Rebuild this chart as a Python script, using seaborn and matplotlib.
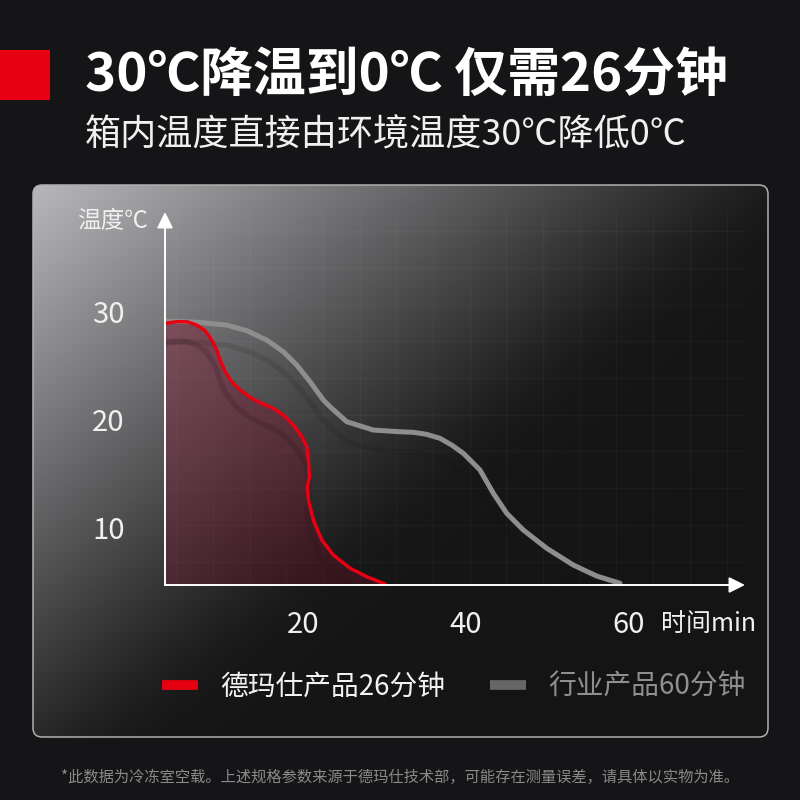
import numpy as np
import matplotlib
matplotlib.use("Agg")
import matplotlib.pyplot as plt
import matplotlib.transforms as mtransforms
from matplotlib.patches import FancyBboxPatch, Rectangle, Polygon
from matplotlib.ticker import MultipleLocator
import seaborn as sns

# ---------------- data ----------------
red_time = [3.10, 4.54, 5.77, 6.99, 8.01, 8.83, 9.45, 9.85, 10.47, 11.29, 12.31, 13.53,
            14.76, 16.20, 17.62, 18.85, 19.88, 20.49, 20.69, 20.81, 20.56, 20.69, 21.30,
            22.33, 23.75, 25.80, 27.85, 30.10]
red_temp = [28.86, 29.01, 29.01, 28.70, 28.18, 27.31, 26.39, 25.46, 24.38, 23.45, 22.69, 22.01,
            21.51, 21.05, 20.37, 19.44, 18.36, 17.44, 16.20, 14.66, 13.73, 12.50, 10.65,
            8.80, 7.41, 6.18, 5.40, 4.72]
grey_time = [3.10, 5.56, 7.77, 10.67, 13.13, 15.58, 17.62, 19.26, 20.90, 22.53, 23.35,
             25.40, 28.66, 31.94, 33.57, 35.21, 36.85, 38.28, 39.71, 40.74, 41.75, 43.39,
             45.03, 47.07, 49.94, 53.20, 56.07, 58.93]
grey_temp = [29.07, 29.03, 28.92, 28.70, 28.18, 27.31, 26.23, 25.00, 23.45, 21.76, 21.14,
             19.75, 18.98, 18.82, 18.77, 18.58, 18.21, 17.59, 16.82, 16.05, 15.28, 13.12,
             11.27, 9.72, 8.03, 6.48, 5.46, 4.79]
x_ticks = [20, 40, 60]
y_ticks = [10, 20, 30]
series_labels = ["德玛仕产品26分钟", "行业产品60分钟"]
title = "30℃降温到0℃ 仅需26分钟"
subtitle = "箱内温度直接由环境温度30℃降低0℃"
footnote = "*此数据为冷冻室空载。上述规格参数来源于德玛仕技术部，可能存在测量误差，请具体以实物为准。"
y_label = "温度℃"
x_label = "时间min"

# ---------------- style ----------------
sns.set_style("dark")
plt.rcParams['font.family'] = ['Noto Sans CJK SC', 'DejaVu Sans']
plt.rcParams['axes.unicode_minus'] = False

RED = "#e60012"
GREY = "#8e8e8e"
BG = "#151518"

fig = plt.figure(figsize=(8, 8), dpi=100, facecolor=BG)

# background layer in pixel coordinates
bg = fig.add_axes([0, 0, 1, 1], zorder=0)
bg.set_xlim(0, 800)
bg.set_ylim(800, 0)
bg.axis("off")
bg.set_facecolor(BG)

# panel with diagonal gradient from top-left
px0, py0, px1, py1 = 33, 185, 768, 737
W, H = px1 - px0, py1 - py0
xx, yy = np.meshgrid(np.linspace(0, W, 400), np.linspace(0, H, 300))
v = 0.72 - 0.00084 * xx - 0.00102 * yy - 0.08
b = 0.08 + 0.5 * (v + np.sqrt(v ** 2 + 0.002))
img = np.dstack([b, b, b * 1.02, np.ones_like(b)])
img = np.clip(img, 0, 1)
panel = FancyBboxPatch((px0, py0), W, H, boxstyle="round,pad=0,rounding_size=9",
                       facecolor="none", edgecolor="#b0b0b0", lw=1.1,
                       transform=bg.transData, zorder=3)
bg.add_patch(panel)
im = bg.imshow(img, extent=[px0, px1, py1, py0], aspect="auto", zorder=1,
               interpolation="bilinear")
im.set_clip_path(panel)

# red square marker
bg.add_patch(Rectangle((0, 50), 50, 50, facecolor=RED, edgecolor="none", zorder=2))

bg.text(85, 75, title, fontsize=38, fontweight="bold", color="white",
        ha="left", va="center")
bg.text(85, 135, subtitle, fontsize=26, color="#f0f0f0", ha="left", va="center")
bg.text(400, 777, footnote, fontsize=11, color="#8a8a8a", ha="center", va="center")
bg.text(113, 222, y_label, fontsize=17, color="#f0f0f0", ha="center", va="center")
bg.text(709, 624, x_label, fontsize=18, color="#f0f0f0", ha="center", va="center")

# ---------------- main chart ----------------
ax = fig.add_axes([165 / 800, 215 / 800, 580 / 800, 373 / 800], zorder=2)
ax.set_facecolor("none")
xlim = (3.10, 74.27)
ylim = (4.63, 39.17)

# shadow copies (same data, offset downwards in display space)
shadow = mtransforms.offset_copy(ax.transData, fig=fig, x=0, y=-20, units="dots")
ax.plot(grey_time, grey_temp, color="#101010", lw=4, alpha=0.12, transform=shadow,
        solid_capstyle="round", solid_joinstyle="round", zorder=2)

# gradient fill under red curve
verts = list(zip(red_time, red_temp)) + [(red_time[-1], ylim[0]), (red_time[0], ylim[0])]
clip_poly = Polygon(verts, closed=True, facecolor="none", edgecolor="none",
                    transform=ax.transData)
ax.add_patch(clip_poly)
g = np.linspace(0, 1, 256)[:, None]
fill_img = np.zeros((256, 2, 4))
fill_img[..., 0] = 0.50
fill_img[..., 1] = 0.07
fill_img[..., 2] = 0.17
fill_img[..., 3] = (0.40 - 0.10 * g)
fim = ax.imshow(fill_img, extent=[red_time[0], max(red_time), ylim[0], max(red_temp)],
                origin="upper", aspect="auto", zorder=1, interpolation="bilinear")
fim.set_clip_path(clip_poly)

ax.plot(red_time, red_temp, color="#2a1418", lw=4, alpha=0.2, transform=shadow,
        solid_capstyle="round", solid_joinstyle="round", zorder=2)

sns.lineplot(x=grey_time, y=grey_temp, ax=ax, color=GREY, lw=3.6, sort=False,
             estimator=None, label=series_labels[1], zorder=3)
sns.lineplot(x=red_time, y=red_temp, ax=ax, color=RED, lw=2.5, sort=False,
             estimator=None, label=series_labels[0], zorder=4)
for ln in ax.lines[-2:]:
    ln.set_solid_capstyle("round")
    ln.set_solid_joinstyle("round")

ax.set_xlim(*xlim)
ax.set_ylim(*ylim)

# faint grid
ax.xaxis.set_minor_locator(MultipleLocator(4.5))
ax.yaxis.set_minor_locator(MultipleLocator(3.4))
ax.grid(False, which="major")
ax.grid(True, which="minor", color="white", alpha=0.03, lw=1)

ax.set_xticks(x_ticks)
ax.set_yticks(y_ticks)
ax.set_xticklabels([str(v_) for v_ in x_ticks])
ax.set_yticklabels([str(v_) for v_ in y_ticks])
ax.tick_params(axis="both", which="both", length=0, labelsize=21, labelcolor="#f0f0f0")
ax.tick_params(axis="y", pad=29)
ax.tick_params(axis="x", pad=18)
ax.set_xlabel("")
ax.set_ylabel("")
for s in ax.spines.values():
    s.set_visible(False)

# axis arrows
arrow_kw = dict(arrowstyle="-|>", color="white", lw=1.4, mutation_scale=24,
                shrinkA=0, shrinkB=0)
ax.annotate("", xy=(1.0, 0), xytext=(0, 0), xycoords="axes fraction",
            arrowprops=arrow_kw, annotation_clip=False, zorder=5)
ax.annotate("", xy=(0, 1.0), xytext=(0, 0), xycoords="axes fraction",
            arrowprops=arrow_kw, annotation_clip=False, zorder=5)

# legend
h, l = ax.get_legend_handles_labels()
order = [l.index(series_labels[0]), l.index(series_labels[1])]
leg = ax.legend([h[i] for i in order], [l[i] for i in order], ncol=2, frameon=False,
                loc="center", bbox_to_anchor=(454 / 800, 1 - 687 / 800),
                bbox_transform=fig.transFigure, fontsize=20,
                handlelength=1.3, handletextpad=0.8, columnspacing=1.6)
leg_colors = [RED, "#666666"]
for ln, c in zip(leg.get_lines(), leg_colors):
    ln.set_linewidth(7)
    ln.set_color(c)
    ln.set_solid_capstyle("butt")
for t_, c in zip(leg.get_texts(), ["#f2f2f2", "#8f8f8f"]):
    t_.set_color(c)

fig.savefig("out.png", dpi=100, facecolor=BG)
